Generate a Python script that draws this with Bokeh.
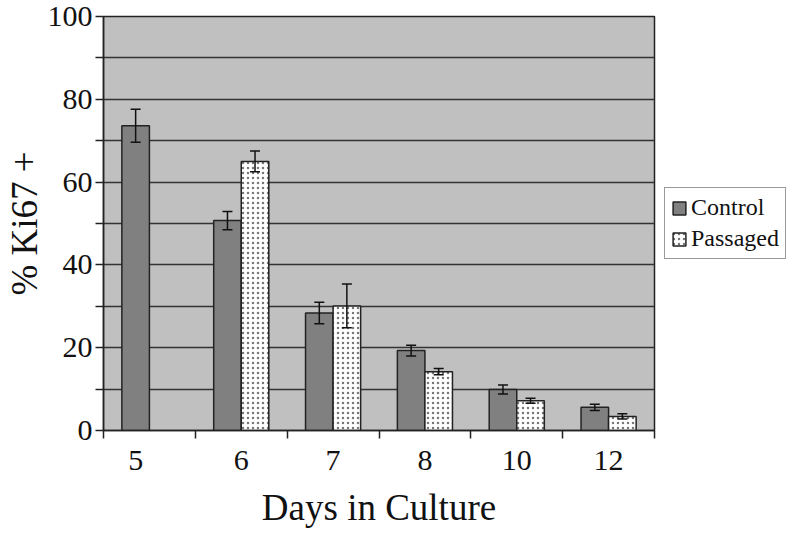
import math
from bokeh.plotting import figure
from bokeh.models import (ColumnDataSource, FixedTicker, Range1d, Whisker, TeeHead,
                          Legend, LegendItem)
from bokeh.embed import file_html
from bokeh.resources import INLINE

days = ["5", "6", "7", "8", "10", "12"]
control = [73.6, 50.7, 28.4, 19.3, 9.9, 5.6]
control_err = [4.0, 2.2, 2.6, 1.3, 1.1, 0.75]
passaged = [None, 65.0, 30.1, 14.2, 7.2, 3.4]
passaged_err = [None, 2.5, 5.3, 0.75, 0.6, 0.65]

FONT = "Liberation Serif"
BW = 0.3

cx = [i + 0.5 - BW / 2 for i in range(len(days))]
px = [i + 0.5 + BW / 2 for i in range(len(days))]

csrc = ColumnDataSource(dict(
    x=cx, top=control,
    up=[v + e for v, e in zip(control, control_err)],
    lo=[v - e for v, e in zip(control, control_err)]))
pidx = [i for i, v in enumerate(passaged) if v is not None]
psrc = ColumnDataSource(dict(
    x=[px[i] for i in pidx], top=[passaged[i] for i in pidx],
    up=[passaged[i] + passaged_err[i] for i in pidx],
    lo=[passaged[i] - passaged_err[i] for i in pidx]))

# label positions: centre of drawn bars
label_pos = []
for i in range(len(days)):
    if passaged[i] is None:
        label_pos.append(cx[i])
    else:
        label_pos.append(i + 0.5)

p = figure(frame_width=551, frame_height=414,
           output_backend="svg", toolbar_location=None,
           x_range=Range1d(0, len(days)), y_range=Range1d(0, 100),
           min_border_left=99, min_border_right=134, min_border_top=16,
           min_border_bottom=90)
p.background_fill_color = "#C0C0C0"
p.border_fill_color = "white"
p.outline_line_color = "#222222"
p.outline_line_width = 1.5

cr = p.vbar(x="x", top="top", bottom=0, width=BW, source=csrc,
            fill_color="#808080", line_color="#222222", line_width=1.5)
pr = p.vbar(x="x", top="top", bottom=0, width=BW, source=psrc,
            fill_color="white", line_color="#222222", line_width=1.5,
            hatch_pattern="dot", hatch_color="#777777", hatch_scale=5,
            hatch_weight=1.5)

for src in (csrc, psrc):
    w = Whisker(source=src, base="x", upper="up", lower="lo", dimension="height",
                line_color="#111111", line_width=1.5, level="overlay",
                upper_head=TeeHead(size=10, line_color="#111111", line_width=1.5),
                lower_head=TeeHead(size=10, line_color="#111111", line_width=1.5))
    p.add_layout(w)

# x axis
p.xaxis.ticker = FixedTicker(ticks=label_pos, minor_ticks=list(range(len(days) + 1)))
p.xaxis.major_label_overrides = {pos: d for pos, d in zip(label_pos, days)}
p.xaxis.major_tick_out = 0
p.xaxis.major_tick_in = 0
p.xaxis.minor_tick_out = 8
p.xaxis.minor_tick_in = 0
p.xaxis.minor_tick_line_color = "#222222"
p.xaxis.minor_tick_line_width = 1.5
p.xaxis.axis_line_color = "#222222"
p.xaxis.axis_line_width = 1.5
p.xaxis.major_label_text_font = FONT
p.xaxis.major_label_text_font_size = "30px"
p.xaxis.major_label_text_color = "#111111"
p.xaxis.major_label_standoff = 12
p.xaxis.axis_label = "Days in Culture"
p.xaxis.axis_label_text_font = FONT
p.xaxis.axis_label_text_font_size = "37px"
p.xaxis.axis_label_text_font_style = "normal"
p.xaxis.axis_label_text_color = "#111111"
p.xaxis.axis_label_standoff = 14

# y axis
yt = FixedTicker(ticks=[0, 20, 40, 60, 80, 100], minor_ticks=[10, 30, 50, 70, 90])
p.yaxis.ticker = yt
p.yaxis.major_tick_out = 8
p.yaxis.major_tick_in = 0
p.yaxis.minor_tick_out = 8
p.yaxis.minor_tick_in = 0
p.yaxis.major_tick_line_color = "#222222"
p.yaxis.minor_tick_line_color = "#222222"
p.yaxis.major_tick_line_width = 1.5
p.yaxis.minor_tick_line_width = 1.5
p.yaxis.axis_line_color = "#222222"
p.yaxis.axis_line_width = 1.5
p.yaxis.major_label_text_font = FONT
p.yaxis.major_label_text_font_size = "30px"
p.yaxis.major_label_text_color = "#111111"
p.yaxis.major_label_standoff = 3
p.yaxis.axis_label = "% Ki67 +"
p.yaxis.axis_label_text_font = FONT
p.yaxis.axis_label_text_font_size = "37px"
p.yaxis.axis_label_text_font_style = "normal"
p.yaxis.axis_label_text_color = "#111111"
p.yaxis.axis_label_standoff = 0

p.xgrid.grid_line_color = None
p.ygrid.ticker = yt
p.ygrid.grid_line_color = "#333333"
p.ygrid.grid_line_width = 1.5
p.ygrid.minor_grid_line_color = "#333333"
p.ygrid.minor_grid_line_width = 1.5

legend = Legend(items=[LegendItem(label="Control", renderers=[cr]),
                       LegendItem(label="Passaged", renderers=[pr])],
                location="center_left")
legend.label_text_font = FONT
legend.label_text_font_size = "24px"
legend.label_text_color = "#111111"
legend.border_line_color = "#333333"
legend.border_line_width = 1.5
legend.background_fill_color = "white"
legend.background_fill_alpha = 1
legend.glyph_width = 16
legend.glyph_height = 16
legend.label_standoff = 4
legend.padding = 6
legend.spacing = 4
legend.margin = 10
p.add_layout(legend, "right")

open("out.html", "w").write(file_html(p, INLINE))
